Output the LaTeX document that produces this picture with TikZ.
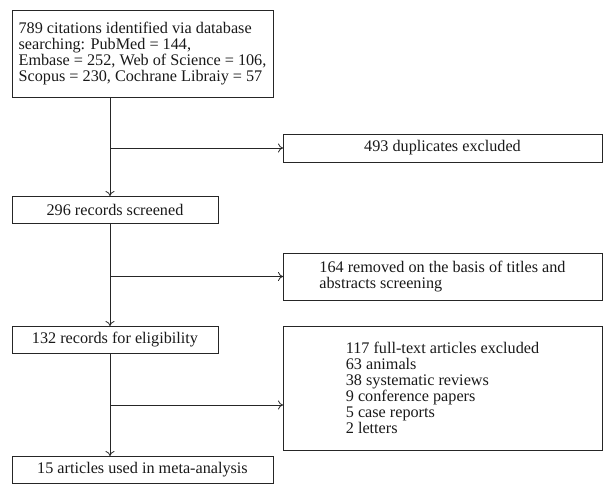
\documentclass[tikz,border=0pt]{standalone}
\usepackage{fontspec}
\setmainfont{Liberation Serif}
\usetikzlibrary{arrows.meta}
\begin{document}
\begin{tikzpicture}[x=1pt,y=-1pt,
  box/.style={draw=black!85, line width=0.8pt, inner sep=0pt, outer sep=0pt,
    font=\fontsize{16.2}{16}\selectfont, text=black!90},
  conn/.style={draw=black!85, line width=0.8pt, -{To[length=5pt,width=9pt]}}]
\useasboundingbox (0,0) rectangle (613,494);
\node[box, minimum width=261pt, minimum height=87pt, align=left] (src) at (142.5,53.5)
  {789 citations identified via database\\searching: PubMed = 144,\\Embase = 252, Web of Science = 106,\\Scopus = 230, Cochrane Libraiy = 57};
\node[box, minimum width=319pt, minimum height=28pt] (dup) at (442.5,148) {493 duplicates excluded};
\node[box, minimum width=206pt, minimum height=27pt] (scr) at (115,209.5) {296 records screened};
\node[box, minimum width=319pt, minimum height=47pt, align=left] (rem) at (442.5,276.5)
  {164 removed on the basis of titles and\\abstracts screening};
\node[box, minimum width=206pt, minimum height=27pt] (elig) at (115,339.5) {132 records for eligibility};
\node[box, minimum width=319pt, minimum height=124pt, align=left] (excl) at (442.5,388)
  {117 full-text articles excluded\\63 animals\\38 systematic reviews\\9 conference papers\\5 case reports\\2 letters};
\node[box, minimum width=261pt, minimum height=27pt] (final) at (142.5,469.5) {15 articles used in meta-analysis};
\coordinate (trunk) at (110,0);
\draw[conn] (src.south -| trunk) -- (scr.north -| trunk);
\draw[conn] (trunk |- dup.west) -- (dup.west);
\draw[conn] (scr.south -| trunk) -- (elig.north -| trunk);
\draw[conn] (trunk |- rem.west) -- (rem.west);
\draw[conn] (elig.south -| trunk) -- (final.north -| trunk);
\coordinate (b3) at (110,405);
\draw[conn] (b3) -- (b3 -| excl.west);
\end{tikzpicture}
\end{document}
